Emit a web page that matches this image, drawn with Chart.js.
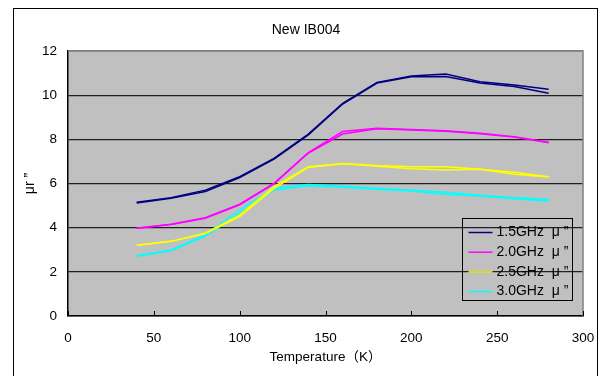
<!DOCTYPE html>
<html><head><meta charset="utf-8">
<script src="https://cdn.jsdelivr.net/npm/chart.js@4"></script>
<style>html,body{margin:0;padding:0;background:#fff}#wrap{width:602px;height:376px}</style>
</head><body><div id="wrap"><canvas id="c" width="602" height="376"></canvas></div>
<script>
// ---- data ----
const chartTitle = 'New IB004';
const xAxisTitle = 'Temperature（K）';
const yAxisTitle = 'μr ”';
const temperatures = [40, 60, 80, 100, 120, 140, 160, 180, 200, 220, 240, 260, 280];
const seriesLabels = ['1.5GHz  μ ”', '2.0GHz  μ ”', '2.5GHz  μ ”', '3.0GHz  μ ”'];
const seriesColors = ['#000080', '#FF00FF', '#FFFF00', '#00FFFF'];
// two runs per frequency (nearly overlapping curves)
const mu15a = [5.15, 5.36, 5.70, 6.31, 7.14, 8.24, 9.63, 10.58, 10.87, 10.96, 10.61, 10.46, 10.27];
const mu15b = [5.12, 5.33, 5.64, 6.27, 7.10, 8.20, 9.60, 10.55, 10.83, 10.84, 10.55, 10.39, 10.09];
const mu20a = [3.97, 4.15, 4.45, 5.06, 6.01, 7.40, 8.35, 8.50, 8.44, 8.39, 8.27, 8.12, 7.87];
const mu20b = [3.97, 4.14, 4.43, 5.03, 5.98, 7.38, 8.24, 8.48, 8.42, 8.37, 8.25, 8.10, 7.84];
const mu25a = [3.20, 3.38, 3.75, 4.57, 5.86, 6.76, 6.91, 6.81, 6.76, 6.76, 6.64, 6.51, 6.31];
const mu25b = [3.20, 3.38, 3.73, 4.50, 5.78, 6.73, 6.89, 6.78, 6.67, 6.61, 6.64, 6.42, 6.29];
const mu30a = [2.73, 2.99, 3.67, 4.80, 5.80, 5.95, 5.88, 5.78, 5.70, 5.60, 5.47, 5.35, 5.29];
const mu30b = [2.71, 2.97, 3.62, 4.65, 5.71, 5.90, 5.83, 5.74, 5.66, 5.51, 5.43, 5.31, 5.21];
const xTicks = [0, 50, 100, 150, 200, 250, 300];
const yTicks = [0, 2, 4, 6, 8, 10, 12];

const runs = [[mu15a, mu15b], [mu20a, mu20b], [mu25a, mu25b], [mu30a, mu30b]];
const FONT = '"Liberation Sans", Arial, "Noto Sans CJK JP", sans-serif';

const datasets = [];
runs.forEach((pair, i) => {
  pair.forEach((vals, k) => {
    datasets.push({
      label: seriesLabels[i],
      legendEntry: k === 0,
      data: temperatures.map((t, j) => ({x: t, y: vals[j]})),
      borderColor: seriesColors[i],
      backgroundColor: seriesColors[i],
      borderWidth: 1.5,
      pointRadius: 0,
      tension: 0,
      fill: false
    });
  });
});

const decor = {
  id: 'decor',
  beforeDraw(chart) {
    const ctx = chart.ctx, a = chart.chartArea;
    ctx.save();
    ctx.fillStyle = '#fff';
    ctx.fillRect(0, 0, chart.width, chart.height);
    ctx.strokeStyle = '#000';
    ctx.lineWidth = 1;
    ctx.strokeRect(13.5, 8.5, 584, 400);
    ctx.fillStyle = '#C0C0C0';
    ctx.fillRect(a.left, a.top, a.right - a.left, a.bottom - a.top);
    ctx.fillStyle = '#000';
    ctx.font = '14px ' + FONT;
    ctx.textAlign = 'center';
    ctx.textBaseline = 'middle';
    ctx.fillText(chartTitle, 306, 30);
    ctx.restore();
  },
  afterDraw(chart) {
    const ctx = chart.ctx, a = chart.chartArea, xs = chart.scales.x;
    ctx.save();
    // plot border top/right
    ctx.strokeStyle = '#808080';
    ctx.lineWidth = 1.5;
    ctx.beginPath();
    ctx.moveTo(a.left, a.top);
    ctx.lineTo(a.right, a.top);
    ctx.lineTo(a.right, a.bottom);
    ctx.stroke();
    // inward x ticks
    ctx.strokeStyle = '#000';
    ctx.lineWidth = 1;
    xs.ticks.forEach(t => {
      const px = Math.round(xs.getPixelForValue(t.value)) + 0.5;
      ctx.beginPath();
      ctx.moveTo(px, a.bottom);
      ctx.lineTo(px, a.bottom - 5);
      ctx.stroke();
    });
    // legend
    const entries = chart.data.datasets.filter(d => d.legendEntry);
    const bx = Math.round(a.right - 121) + 0.5, by = Math.round(a.bottom - 98) + 0.5;
    const bw = 110, bh = 82;
    ctx.strokeStyle = '#000';
    ctx.lineWidth = 1;
    ctx.strokeRect(bx, by, bw, bh);
    ctx.font = '14px ' + FONT;
    ctx.textAlign = 'left';
    ctx.textBaseline = 'middle';
    entries.forEach((d, i) => {
      const y = by + 14 + i * 19.7;
      ctx.strokeStyle = d.borderColor;
      ctx.lineWidth = 1.5;
      ctx.beginPath();
      ctx.moveTo(bx + 6, y);
      ctx.lineTo(bx + 30, y);
      ctx.stroke();
      ctx.fillStyle = '#000';
      ctx.fillText(d.label, bx + 34, y);
    });
    ctx.restore();
  }
};

new Chart(document.getElementById('c'), {
  type: 'line',
  data: {datasets},
  plugins: [decor],
  options: {
    responsive: false,
    animation: false,
    devicePixelRatio: 1,
    layout: {padding: {top: 51, right: 19, left: 0, bottom: 0}},
    plugins: {legend: {display: false}, title: {display: false}, tooltip: {enabled: false}},
    scales: {
      x: {
        type: 'linear', min: 0, max: 300,
        afterFit(s) { s.height = 60; s.paddingLeft = 0; s.paddingRight = 0; },
        afterBuildTicks(s) { s.ticks = xTicks.map(v => ({value: v})); },
        ticks: {color: '#000', font: {size: 13.5, family: FONT}, padding: 14, maxRotation: 0},
        grid: {drawOnChartArea: false, drawTicks: false},
        border: {color: '#000', width: 1.5},
        title: {display: true, text: xAxisTitle, color: '#000', font: {size: 13.5, family: FONT}, padding: {top: 0, bottom: 11}}
      },
      y: {
        type: 'linear', min: 0, max: 12,
        afterFit(s) { s.width = 68; s.paddingTop = 0; s.paddingBottom = 0; },
        afterBuildTicks(s) { s.ticks = yTicks.map(v => ({value: v})); },
        ticks: {color: '#000', font: {size: 13.5, family: FONT}, padding: 11},
        grid: {drawTicks: false, color: (c) => c.tick && c.tick.value === 12 ? '#808080' : '#202020', lineWidth: 1.3},
        border: {color: '#000', width: 1.5},
        title: {display: true, text: yAxisTitle, color: '#000', font: {size: 14, family: FONT}, padding: {top: 22, bottom: 0}}
      }
    }
  }
});
</script></body></html>
